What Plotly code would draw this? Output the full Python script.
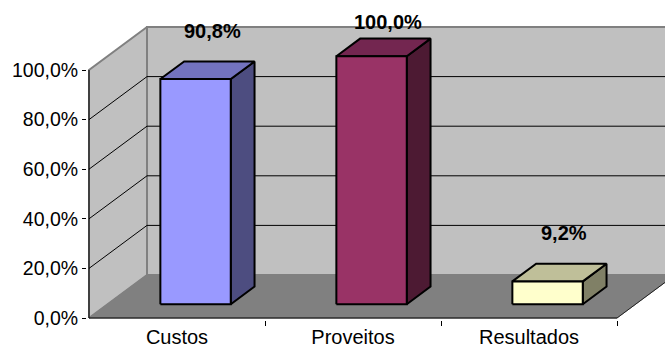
import plotly.graph_objects as go

categories = ["Custos", "Proveitos", "Resultados"]
values = [90.8, 100.0, 9.2]
value_labels = ["90,8%", "100,0%", "9,2%"]
tick_values = [0, 20, 40, 60, 80, 100]
tick_labels = ["0,0%", "20,0%", "40,0%", "60,0%", "80,0%", "100,0%"]

front_colors = ["#9999FF", "#993366", "#FFFFCC"]
top_colors = ["#7373BF", "#732650", "#BFBF99"]
side_colors = ["#4D4D80", "#4D1A33", "#808066"]

# geometry (pixels -> data units)
W, H = 665, 349
PX_CAT = 176.0          # pixels per category
PX_PCT = 2.48           # pixels per percent
L, B, T = 87, 29, 15
x0 = -0.5 - 2 / PX_CAT
x1 = x0 + (W - L) / PX_CAT
y0 = -2 / PX_PCT
y1 = y0 + (H - B - T) / PX_PCT

DX = 58 / PX_CAT        # full depth offset in x units
DY = 43 / PX_PCT        # full depth offset in y units
F1, F2 = 0.32, 0.73     # bar front/back depth fractions
BW = 0.40               # bar width
N = len(categories)
xl, xr = -0.5, N - 0.5

fig = go.Figure()

def poly(xs, ys, fill, line_color, lw):
    fig.add_trace(go.Scatter(
        x=list(xs) + [xs[0]], y=list(ys) + [ys[0]], mode="lines",
        fill="toself", fillcolor=fill,
        line=dict(color=line_color, width=lw), hoverinfo="skip", showlegend=False))

def line(xs, ys, color, lw):
    fig.add_trace(go.Scatter(x=xs, y=ys, mode="lines",
                             line=dict(color=color, width=lw),
                             hoverinfo="skip", showlegend=False))

top = tick_values[-1]
# back wall
poly([xl + DX, xr + DX, xr + DX, xl + DX], [DY, DY, top + DY, top + DY], "#C0C0C0", "#808080", 2)
# left wall
poly([xl, xl, xl + DX, xl + DX], [0, top, top + DY, DY], "#C0C0C0", "#808080", 2)
# floor
poly([xl, xr, xr + DX, xl + DX], [0, 0, DY, DY], "#808080", "#808080", 1)
# gridlines
for v in tick_values[1:-1]:
    line([xl, xl + DX, xr + DX], [v, v + DY, v + DY], "black", 1)
# floor right edge
line([xr, xr + DX], [0, DY], "#222222", 1)
# axes
line([xl, xl], [0, top], "black", 1)
line([xl, xr], [0, 0], "black", 1)

# bars
for i, v in enumerate(values):
    fx = i + F1 * DX
    fy = F1 * DY
    ddx = (F2 - F1) * DX
    ddy = (F2 - F1) * DY
    a, b = fx - BW / 2, fx + BW / 2
    # side
    poly([b, b + ddx, b + ddx, b], [fy, fy + ddy, fy + v + ddy, fy + v], side_colors[i], "black", 2)
    # top
    poly([a, b, b + ddx, a + ddx], [fy + v, fy + v, fy + v + ddy, fy + v + ddy], top_colors[i], "black", 2)
    # front
    poly([a, b, b, a], [fy, fy, fy + v, fy + v], front_colors[i], "black", 2)
    fig.add_annotation(x=i + 0.2, y=min(v + 25, 119.4), text="<b>%s</b>" % value_labels[i],
                       showarrow=False, font=dict(size=20, color="black",
                                                  family="Liberation Sans, Arial, sans-serif"))

fig.update_layout(
    width=W, height=H,
    margin=dict(l=L, r=0, t=T, b=B),
    paper_bgcolor="white", plot_bgcolor="white",
    font=dict(family="Liberation Sans, Arial, sans-serif", color="black"),
    xaxis=dict(range=[x0, x1], tickvals=list(range(N)), ticktext=categories,
               ticks="", showgrid=False, zeroline=False, showline=False,
               tickfont=dict(size=20), ticklabelstandoff=3,
               minor=dict(tickvals=[i + 0.5 for i in range(N)], ticks="outside",
                          ticklen=5, tickcolor="black", tickwidth=1, showgrid=False)),
    yaxis=dict(range=[y0, y1], tickvals=tick_values, ticktext=tick_labels,
               ticks="outside", ticklen=4, tickcolor="black", showgrid=False,
               zeroline=False, showline=False, tickfont=dict(size=19.5)),
)

fig.write_html("out.html")
